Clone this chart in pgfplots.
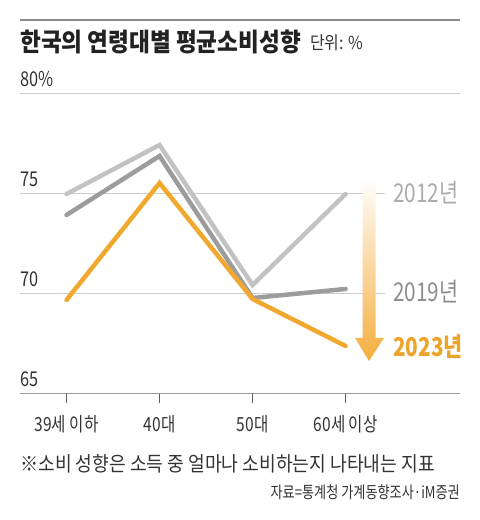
\documentclass[border=0pt]{standalone}
\usepackage{fontspec}
\usepackage{pgfplots}
\pgfplotsset{compat=1.18}
\setmainfont{Noto Sans CJK KR}[FakeStretch=0.8]
\newfontfamily\hfont{Noto Sans CJK KR}[FakeStretch=0.89]
\definecolor{c12}{HTML}{C2C2C2}
\definecolor{c19}{HTML}{9C9C9C}
\definecolor{c23}{HTML}{F0A92E}
\definecolor{l12}{HTML}{ABABAB}
\definecolor{l19}{HTML}{8E8E8E}
\definecolor{l23}{HTML}{EDA42A}
\definecolor{arrowc}{HTML}{F4AE3D}
\definecolor{gridg}{HTML}{CCCCCC}
\definecolor{axisg}{HTML}{9A9A9A}
\definecolor{ruleg}{HTML}{8A8A8A}
\definecolor{labg}{HTML}{333333}
\definecolor{titlec}{HTML}{222222}
\begin{document}
\begin{tikzpicture}[x=1bp,y=1bp]
\useasboundingbox (0,0) rectangle (480,520);
\draw[color=ruleg, line width=2bp] (20,500) -- (460,500);
\node[anchor=base west, inner sep=0, text=titlec, font=\hfont\fontsize{25.5}{28}\selectfont\bfseries] at (20,468) {한국의 연령대별 평균소비성향};
\node[anchor=base west, inner sep=0, text=labg, font=\hfont\fontsize{18}{20}\selectfont] at (310,470) {단위: \%};
\begin{axis}[at={(20bp,126bp)}, anchor=south west, scale only axis,
  width=440bp, height=300bp,
  xmin=-0.5, xmax=4.23, ymin=65, ymax=80, clip=false,
  axis y line=none, axis x line*=bottom,
  x axis line style={draw=axisg, line width=1bp},
  xtick={0,1,2,3},
  xticklabels={39세 이하,40대,50대,60세 이상},
  ytick=\empty,
  tick align=outside, major tick length=9bp,
  tick style={draw=labg!80, line width=1bp},
  xticklabel style={font=\fontsize{19.5}{22}\selectfont, text=labg, anchor=base, yshift=-29bp},
]
\draw[gridg, line width=1bp] (axis cs:-0.5,80) -- (axis cs:4.23,80);
\draw[gridg, line width=1bp] (axis cs:-0.5,75) -- (axis cs:3.42,75);
\draw[gridg, line width=1bp] (axis cs:-0.5,70) -- (axis cs:3.42,70);
\node[anchor=base west, inner sep=0, yshift=7bp, text=labg, font=\fontsize{20.5}{24}\selectfont] at (axis cs:-0.5,80) {80\%};
\node[anchor=base west, inner sep=0, yshift=7bp, text=labg, font=\fontsize{20.5}{24}\selectfont] at (axis cs:-0.5,75) {75};
\node[anchor=base west, inner sep=0, yshift=7bp, text=labg, font=\fontsize{20.5}{24}\selectfont] at (axis cs:-0.5,70) {70};
\node[anchor=base west, inner sep=0, yshift=7bp, text=labg, font=\fontsize{20.5}{24}\selectfont] at (axis cs:-0.5,65) {65};
\addplot[c12, line width=4.5bp, line join=miter, line cap=round] coordinates {(0,75.0) (1,77.45) (2,70.45) (3,75.0)};
\addplot[c19, line width=4.5bp, line join=miter, line cap=round] coordinates {(0,73.95) (1,76.9) (2,69.8) (3,70.25)};
\addplot[c23, line width=4.5bp, line join=miter, line cap=round] coordinates {(0,69.7) (1,75.55) (2,69.75) (3,67.4)};
\end{axis}
\shade[top color=white, bottom color=arrowc] (362.5,343) -- (375.5,343) -- (375.5,182) -- (384,182) -- (369,159) -- (355,182) -- (362.5,182) -- cycle;
\node[anchor=base west, inner sep=0, text=l12, font=\fontsize{26}{28}\selectfont] at (393,317) {2012년};
\node[anchor=base west, inner sep=0, text=l19, font=\fontsize{26}{28}\selectfont] at (393,218) {2019년};
\node[anchor=base west, inner sep=0, text=l23, font=\fontsize{26}{28}\selectfont\bfseries] at (393,163) {2023년};
\node[anchor=base west, inner sep=0, text=labg, font=\hfont\fontsize{20.5}{24}\selectfont] at (20,48) {※소비 성향은 소득 중 얼마나 소비하는지 나타내는 지표};
\node[anchor=base east, inner sep=0, text=labg, font=\fontsize{16.5}{20}\selectfont] at (460,21) {자료=통계청 가계동향조사·iM증권};
\end{tikzpicture}
\end{document}
